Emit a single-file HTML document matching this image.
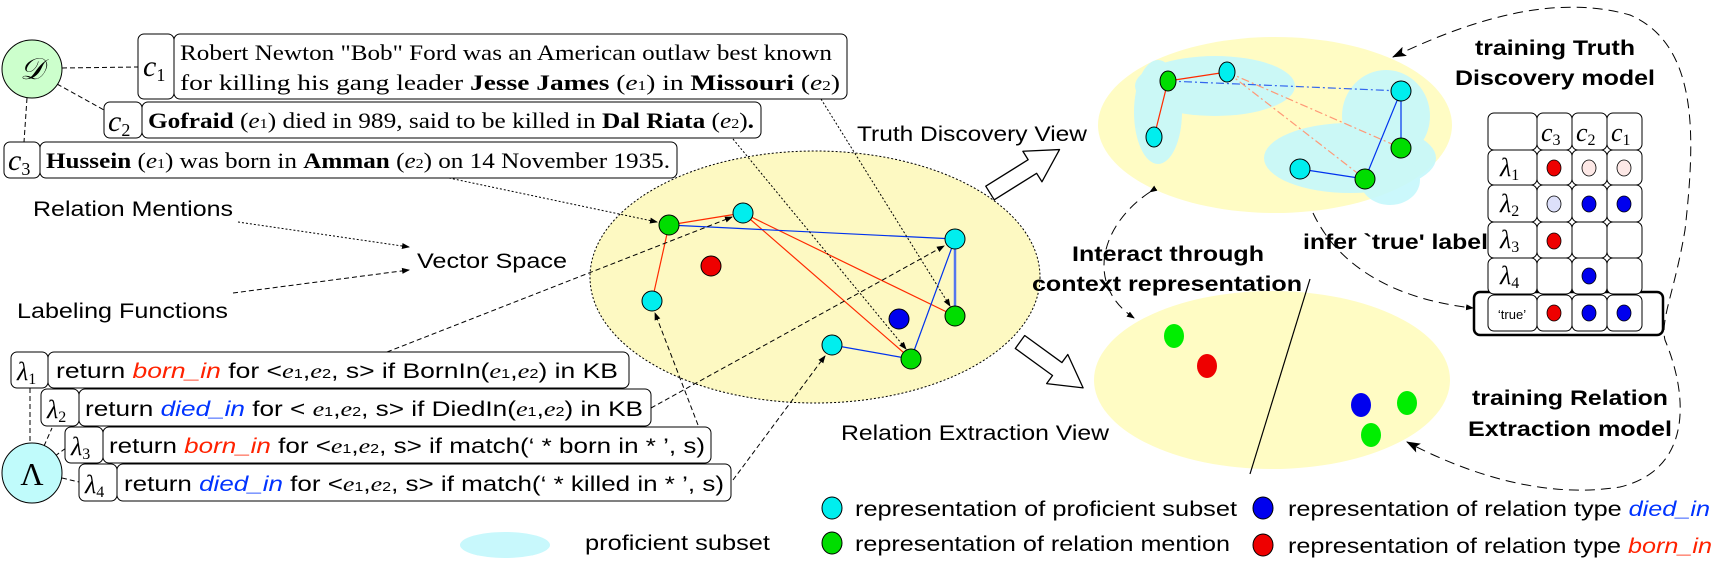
<!DOCTYPE html>
<html><head><meta charset="utf-8"><style>
html,body{margin:0;padding:0;background:#fff;}
svg{display:block;}
.sf{font-family:"Liberation Serif",serif;}
.ss{font-family:"Liberation Sans",sans-serif;}
</style></head><body>
<svg width="1725" height="561" viewBox="0 0 1725 561" xmlns="http://www.w3.org/2000/svg">
<defs>
<marker id="ah" markerWidth="8" markerHeight="8" refX="7" refY="4" orient="auto" markerUnits="userSpaceOnUse">
<path d="M0,1 L8,4 L0,7 Z" fill="#000"/></marker>
<marker id="ahb" markerWidth="14" markerHeight="10" refX="13" refY="5" orient="auto" markerUnits="userSpaceOnUse">
<path d="M0,0 L14,5 L0,10 L3,5 Z" fill="#000"/></marker>
<marker id="ahs" markerWidth="14" markerHeight="10" refX="1" refY="5" orient="auto" markerUnits="userSpaceOnUse">
<path d="M14,0 L0,5 L14,10 L11,5 Z" fill="#000"/></marker>
</defs>

<!-- D circle and sentences -->
<g stroke="#000" stroke-width="1" stroke-dasharray="5,3" fill="none">
<line x1="62" y1="68" x2="138" y2="67"/>
<line x1="57" y1="84" x2="104" y2="110"/>
<line x1="27" y1="98" x2="24" y2="142"/>
<line x1="44" y1="446" x2="52" y2="428"/>
<line x1="55" y1="456" x2="66" y2="448"/>
<line x1="62" y1="478" x2="79" y2="482"/>
</g>
<ellipse cx="32" cy="69" rx="30" ry="29" fill="#ccffcc" stroke="#000"/>
<text x="32" y="79" class="sf" font-size="30" font-style="italic" text-anchor="middle">𝒟</text>

<g fill="#fff" stroke="#000" stroke-width="1">
<rect x="138" y="34" width="36" height="65" rx="6"/>
<rect x="174" y="34" width="673" height="65" rx="6"/>
<rect x="104" y="102" width="38" height="36" rx="6"/>
<rect x="142" y="102" width="619" height="36" rx="6"/>
<rect x="4" y="142" width="36" height="36" rx="6"/>
<rect x="40" y="142" width="637" height="36" rx="6"/>
</g>
<g class="sf" font-size="30" font-style="italic">
<text x="143" y="76">c<tspan font-size="18" font-style="normal" dy="5">1</tspan></text>
<text x="108" y="131">c<tspan font-size="18" font-style="normal" dy="5">2</tspan></text>
<text x="8" y="170">c<tspan font-size="18" font-style="normal" dy="5">3</tspan></text>
</g>
<g class="sf" font-size="22">
<text x="180" y="60" textLength="652" lengthAdjust="spacingAndGlyphs">Robert Newton "Bob" Ford was an American outlaw best known</text>
<text x="180" y="90" textLength="660" lengthAdjust="spacingAndGlyphs">for killing his gang leader <tspan font-weight="bold">Jesse James</tspan> (<tspan font-style="italic">e</tspan><tspan font-size="14">1</tspan>) in <tspan font-weight="bold">Missouri</tspan> (<tspan font-style="italic">e</tspan><tspan font-size="14">2</tspan>)</text>
<text x="148" y="128" textLength="606" lengthAdjust="spacingAndGlyphs"><tspan font-weight="bold">Gofraid</tspan> (<tspan font-style="italic">e</tspan><tspan font-size="14">1</tspan>) died in 989, said to be killed in <tspan font-weight="bold">Dal Riata</tspan> (<tspan font-style="italic">e</tspan><tspan font-size="14">2</tspan>)<tspan font-weight="bold">.</tspan></text>
<text x="46" y="168" textLength="624" lengthAdjust="spacingAndGlyphs"><tspan font-weight="bold">Hussein</tspan> (<tspan font-style="italic">e</tspan><tspan font-size="14">1</tspan>) was born in <tspan font-weight="bold">Amman</tspan> (<tspan font-style="italic">e</tspan><tspan font-size="14">2</tspan>) on 14 November 1935.</text>
</g>

<!-- labels -->
<g class="ss" font-size="21">
<text x="33" y="216" textLength="200" lengthAdjust="spacingAndGlyphs">Relation Mentions</text>
<text x="417" y="268" textLength="150" lengthAdjust="spacingAndGlyphs">Vector Space</text>
<text x="17" y="318" textLength="211" lengthAdjust="spacingAndGlyphs">Labeling Functions</text>
<text x="857" y="141" textLength="230" lengthAdjust="spacingAndGlyphs">Truth Discovery View</text>
<text x="841" y="440" textLength="268" lengthAdjust="spacingAndGlyphs">Relation Extraction View</text>
<text x="585" y="550" textLength="185" lengthAdjust="spacingAndGlyphs">proficient subset</text>
</g>
<line x1="238" y1="222" x2="409" y2="247" stroke="#000" stroke-dasharray="2,2" marker-end="url(#ah)"/>
<line x1="233" y1="293" x2="409" y2="270" stroke="#000" stroke-dasharray="5,3" marker-end="url(#ah)"/>
<ellipse cx="505" cy="545" rx="45" ry="13" fill="#c8f8fc"/>

<!-- center ellipse -->
<ellipse cx="815" cy="277" rx="225" ry="126" fill="#fdf9c2" stroke="#000" stroke-dasharray="2,2"/>
<g stroke-width="1.2">
<line x1="669" y1="225" x2="743" y2="213" stroke="#ff2a00"/>
<line x1="669" y1="225" x2="652" y2="301" stroke="#ff2a00"/>
<line x1="743" y1="213" x2="955" y2="316" stroke="#ff2a00"/>
<line x1="743" y1="213" x2="911" y2="359" stroke="#ff2a00"/>
<line x1="669" y1="225" x2="955" y2="239" stroke="#0033ee"/>
<line x1="955" y1="239" x2="955" y2="316" stroke="#5577ee" stroke-width="2.5"/>
<line x1="955" y1="239" x2="911" y2="359" stroke="#0033ee"/>
<line x1="832" y1="345" x2="911" y2="359" stroke="#0033ee"/>
</g>
<g stroke="#000" fill="none" stroke-width="1">
<line x1="449" y1="178" x2="657" y2="222" stroke-dasharray="2,2" marker-end="url(#ah)"/>
<line x1="821" y1="99" x2="950" y2="306" stroke-dasharray="2,2" marker-end="url(#ah)"/>
<line x1="733" y1="139" x2="906" y2="349" stroke-dasharray="2,2" marker-end="url(#ah)"/>
<line x1="387" y1="352" x2="732" y2="217" stroke-dasharray="5,3" marker-end="url(#ah)"/>
<line x1="651" y1="408" x2="944" y2="246" stroke-dasharray="5,3" marker-end="url(#ah)"/>
<line x1="698" y1="425" x2="655" y2="313" stroke-dasharray="5,3" marker-end="url(#ah)"/>
<line x1="733" y1="480" x2="825" y2="356" stroke-dasharray="5,3" marker-end="url(#ah)"/>
</g>
<g stroke="#000" stroke-width="1">
<circle cx="669" cy="225" r="10" fill="#00dd00"/>
<circle cx="743" cy="213" r="10" fill="#00eeee"/>
<circle cx="711" cy="266" r="10" fill="#ee0000"/>
<circle cx="652" cy="301" r="10" fill="#00eeee"/>
<circle cx="955" cy="239" r="10" fill="#00eeee"/>
<circle cx="955" cy="316" r="10" fill="#00dd00"/>
<circle cx="899" cy="319" r="10" fill="#0000ee"/>
<circle cx="832" cy="345" r="10" fill="#00eeee"/>
<circle cx="911" cy="359" r="10" fill="#00dd00"/>
</g>

<!-- lambda boxes -->
<line x1="30" y1="388" x2="30" y2="444" stroke="#000" stroke-dasharray="5,3"/>
<g fill="#fff" stroke="#000" stroke-width="1">
<rect x="11" y="352" width="37" height="36" rx="6"/>
<rect x="48" y="352" width="581" height="36" rx="6"/>
<rect x="41" y="389" width="38" height="37" rx="6"/>
<rect x="79" y="389" width="572" height="37" rx="6"/>
<rect x="65" y="427" width="38" height="36" rx="6"/>
<rect x="103" y="427" width="608" height="36" rx="6"/>
<rect x="79" y="464" width="38" height="37" rx="6"/>
<rect x="117" y="464" width="614" height="37" rx="6"/>
</g>
<ellipse cx="32" cy="473" rx="30" ry="30" fill="#c0fbfb" stroke="#000"/>
<text x="32" y="485" class="sf" font-size="32" text-anchor="middle">Λ</text>
<g class="sf" font-size="26" font-style="italic">
<text x="17" y="380">λ<tspan font-size="16" font-style="normal" dy="4">1</tspan></text>
<text x="47" y="418">λ<tspan font-size="16" font-style="normal" dy="4">2</tspan></text>
<text x="71" y="455">λ<tspan font-size="16" font-style="normal" dy="4">3</tspan></text>
<text x="85" y="493">λ<tspan font-size="16" font-style="normal" dy="4">4</tspan></text>
</g>
<g class="ss" font-size="21">
<text x="56" y="378" textLength="562" lengthAdjust="spacingAndGlyphs">return <tspan fill="#ff2200" font-style="italic">born_in</tspan> for &lt;<tspan class="sf" font-style="italic">e</tspan><tspan font-size="13">1</tspan>,<tspan class="sf" font-style="italic">e</tspan><tspan font-size="13">2</tspan>, s&gt; if BornIn(<tspan class="sf" font-style="italic">e</tspan><tspan font-size="13">1</tspan>,<tspan class="sf" font-style="italic">e</tspan><tspan font-size="13">2</tspan>) in KB</text>
<text x="85" y="416" textLength="558" lengthAdjust="spacingAndGlyphs">return <tspan fill="#0033ff" font-style="italic">died_in</tspan> for &lt; <tspan class="sf" font-style="italic">e</tspan><tspan font-size="13">1</tspan>,<tspan class="sf" font-style="italic">e</tspan><tspan font-size="13">2</tspan>, s&gt; if DiedIn(<tspan class="sf" font-style="italic">e</tspan><tspan font-size="13">1</tspan>,<tspan class="sf" font-style="italic">e</tspan><tspan font-size="13">2</tspan>) in KB</text>
<text x="109" y="453" textLength="596" lengthAdjust="spacingAndGlyphs">return <tspan fill="#ff2200" font-style="italic">born_in</tspan> for &lt;<tspan class="sf" font-style="italic">e</tspan><tspan font-size="13">1</tspan>,<tspan class="sf" font-style="italic">e</tspan><tspan font-size="13">2</tspan>, s&gt; if match(‘ * born in * ’, s)</text>
<text x="124" y="491" textLength="600" lengthAdjust="spacingAndGlyphs">return <tspan fill="#0033ff" font-style="italic">died_in</tspan> for &lt;<tspan class="sf" font-style="italic">e</tspan><tspan font-size="13">1</tspan>,<tspan class="sf" font-style="italic">e</tspan><tspan font-size="13">2</tspan>, s&gt; if match(‘ * killed in * ’, s)</text>
</g>

<!-- hollow block arrows -->
<path transform="translate(990,193) rotate(-32)" d="M0,-8 L50,-8 L50,-18 L82,0 L50,18 L50,8 L0,8 Z" fill="#fff" stroke="#000" stroke-width="1.3" stroke-linejoin="round"/>
<path transform="translate(1020,342) rotate(36)" d="M0,-8 L46,-8 L46,-18 L78,0 L46,18 L46,8 L0,8 Z" fill="#fff" stroke="#000" stroke-width="1.3" stroke-linejoin="round"/>

<!-- top-right ellipse -->
<ellipse cx="1275" cy="125" rx="177" ry="88" fill="#fffcc4"/>
<g fill="#c6f8fc" opacity="0.9">
<ellipse cx="1215" cy="86" rx="80" ry="30"/>
<ellipse cx="1158" cy="112" rx="24" ry="52"/>
<ellipse cx="1386" cy="116" rx="44" ry="46"/>
<ellipse cx="1350" cy="158" rx="86" ry="35"/>
<ellipse cx="1390" cy="180" rx="30" ry="25"/>
</g>
<g stroke-width="1.2">
<line x1="1168" y1="81" x2="1227" y2="72" stroke="#ff2a00"/>
<line x1="1168" y1="81" x2="1154" y2="137" stroke="#ff2a00"/>
<line x1="1168" y1="81" x2="1401" y2="91" stroke="#3366ee" stroke-dasharray="8,3,2,3"/>
<line x1="1227" y1="72" x2="1401" y2="148" stroke="#ff9977" stroke-dasharray="8,3,2,3"/>
<line x1="1227" y1="72" x2="1365" y2="179" stroke="#ff9977" stroke-dasharray="8,3,2,3"/>
<line x1="1401" y1="91" x2="1401" y2="148" stroke="#0033ee"/>
<line x1="1401" y1="91" x2="1365" y2="179" stroke="#0033ee"/>
<line x1="1300" y1="169" x2="1365" y2="179" stroke="#0033ee"/>
</g>
<g stroke="#000">
<ellipse cx="1168" cy="81" rx="8" ry="10" fill="#00dd00"/>
<ellipse cx="1227" cy="72" rx="8" ry="10" fill="#00eeee"/>
<ellipse cx="1154" cy="137" rx="8" ry="10" fill="#00eeee"/>
<ellipse cx="1401" cy="91" rx="10" ry="10" fill="#00eeee"/>
<ellipse cx="1401" cy="148" rx="10" ry="10" fill="#00dd00"/>
<ellipse cx="1300" cy="169" rx="10" ry="10" fill="#00eeee"/>
<ellipse cx="1365" cy="179" rx="10" ry="10" fill="#00dd00"/>
</g>

<!-- bottom right ellipse -->
<ellipse cx="1272" cy="380" rx="178" ry="89" fill="#fffcc4"/>
<ellipse cx="1174" cy="336" rx="10" ry="12" fill="#00ee00"/>
<ellipse cx="1207" cy="366" rx="10" ry="12" fill="#ee0000"/>
<ellipse cx="1361" cy="405" rx="10" ry="12" fill="#0000ee"/>
<ellipse cx="1407" cy="403" rx="10" ry="12" fill="#00ee00"/>
<ellipse cx="1371" cy="435" rx="10" ry="12" fill="#00ee00"/>
<line x1="1310" y1="279" x2="1250" y2="474" stroke="#000" stroke-width="1.2"/>

<!-- bold labels -->
<g class="ss" font-size="21" font-weight="bold">
<text x="1072" y="261" textLength="192" lengthAdjust="spacingAndGlyphs">Interact through</text>
<text x="1032" y="291" textLength="270" lengthAdjust="spacingAndGlyphs">context representation</text>
<text x="1303" y="249" textLength="185" lengthAdjust="spacingAndGlyphs">infer `true' label</text>
<text x="1555" y="55" text-anchor="middle" textLength="160" lengthAdjust="spacingAndGlyphs">training Truth</text>
<text x="1555" y="85" text-anchor="middle" textLength="200" lengthAdjust="spacingAndGlyphs">Discovery model</text>
<text x="1570" y="405" text-anchor="middle" textLength="196" lengthAdjust="spacingAndGlyphs">training Relation</text>
<text x="1570" y="436" text-anchor="middle" textLength="204" lengthAdjust="spacingAndGlyphs">Extraction model</text>
</g>

<!-- dashed curves -->
<g fill="none" stroke="#000" stroke-width="1" stroke-dasharray="10,6">
<path d="M1150,192 C1100,225 1085,285 1134,318" marker-end="url(#ah)" marker-start="url(#ah)"/>
<path d="M1313,213 C1340,270 1400,300 1473,308" marker-end="url(#ah)"/>
<path d="M1393,57 C1480,15 1560,-5 1630,15 C1700,45 1695,140 1685,230 C1675,290 1660,320 1665,340 C1690,400 1690,470 1620,487 C1540,500 1460,470 1407,442" marker-start="url(#ahs)" marker-end="url(#ahb)"/>
</g>

<!-- table -->
<rect x="1474" y="292" width="189" height="43" rx="6" fill="#fff" stroke="#000" stroke-width="2.5"/>
<g fill="#fff" stroke="#000" stroke-width="1" transform="translate(-6,0)">
<rect x="1494" y="113" width="49" height="37" rx="6"/><rect x="1543" y="113" width="35" height="37" rx="6"/><rect x="1578" y="113" width="35" height="37" rx="6"/><rect x="1613" y="113" width="35" height="37" rx="6"/>
<rect x="1494" y="150" width="49" height="35" rx="6"/><rect x="1543" y="150" width="35" height="35" rx="6"/><rect x="1578" y="150" width="35" height="35" rx="6"/><rect x="1613" y="150" width="35" height="35" rx="6"/>
<rect x="1494" y="185" width="49" height="37" rx="6"/><rect x="1543" y="185" width="35" height="37" rx="6"/><rect x="1578" y="185" width="35" height="37" rx="6"/><rect x="1613" y="185" width="35" height="37" rx="6"/>
<rect x="1494" y="222" width="49" height="36" rx="6"/><rect x="1543" y="222" width="35" height="36" rx="6"/><rect x="1578" y="222" width="35" height="36" rx="6"/><rect x="1613" y="222" width="35" height="36" rx="6"/>
<rect x="1494" y="258" width="49" height="36" rx="6"/><rect x="1543" y="258" width="35" height="36" rx="6"/><rect x="1578" y="258" width="35" height="36" rx="6"/><rect x="1613" y="258" width="35" height="36" rx="6"/>
<rect x="1494" y="295" width="49" height="36" rx="6"/><rect x="1543" y="295" width="35" height="36" rx="6"/><rect x="1578" y="295" width="35" height="36" rx="6"/><rect x="1613" y="295" width="35" height="36" rx="6"/>
</g>
<g transform="translate(-6,0)">
<g class="sf" font-size="26" font-style="italic">
<text x="1547" y="141">c<tspan font-size="16" font-style="normal" dy="4">3</tspan></text>
<text x="1582" y="141">c<tspan font-size="16" font-style="normal" dy="4">2</tspan></text>
<text x="1617" y="141">c<tspan font-size="16" font-style="normal" dy="4">1</tspan></text>
<text x="1506" y="176">λ<tspan font-size="16" font-style="normal" dy="4">1</tspan></text>
<text x="1506" y="212">λ<tspan font-size="16" font-style="normal" dy="4">2</tspan></text>
<text x="1506" y="248">λ<tspan font-size="16" font-style="normal" dy="4">3</tspan></text>
<text x="1506" y="284">λ<tspan font-size="16" font-style="normal" dy="4">4</tspan></text>
</g>
<text x="1518" y="319" class="ss" font-size="13" text-anchor="middle">‘true’</text>
<g stroke="#000" stroke-width="0.8">
<ellipse cx="1560" cy="168" rx="7" ry="8" fill="#ee0000"/><ellipse cx="1595" cy="168" rx="7" ry="8" fill="#fde8e6"/><ellipse cx="1630" cy="168" rx="7" ry="8" fill="#fde8e6"/>
<ellipse cx="1560" cy="204" rx="7" ry="8" fill="#dde0fa"/><ellipse cx="1595" cy="204" rx="7" ry="8" fill="#0000ee"/><ellipse cx="1630" cy="204" rx="7" ry="8" fill="#0000ee"/>
<ellipse cx="1560" cy="241" rx="7" ry="8" fill="#ee0000"/>
<ellipse cx="1595" cy="276" rx="7" ry="8" fill="#0000ee"/>
<ellipse cx="1560" cy="313" rx="7" ry="8" fill="#ee0000"/><ellipse cx="1595" cy="313" rx="7" ry="8" fill="#0000ee"/><ellipse cx="1630" cy="313" rx="7" ry="8" fill="#0000ee"/>
</g>
</g>

<!-- legend -->
<g stroke="#000" stroke-width="1">
<ellipse cx="832" cy="508" rx="10" ry="11" fill="#00eeee"/>
<ellipse cx="832" cy="543" rx="10" ry="11" fill="#00dd00"/>
<ellipse cx="1263" cy="508" rx="10" ry="11" fill="#0000ee"/>
<ellipse cx="1263" cy="545" rx="10" ry="11" fill="#ee0000"/>
</g>
<g class="ss" font-size="21">
<text x="855" y="516" textLength="382" lengthAdjust="spacingAndGlyphs">representation of proficient subset</text>
<text x="855" y="551" textLength="375" lengthAdjust="spacingAndGlyphs">representation of relation mention</text>
<text x="1288" y="516" textLength="422" lengthAdjust="spacingAndGlyphs">representation of relation type <tspan fill="#0033ff" font-style="italic">died_in</tspan></text>
<text x="1288" y="553" textLength="424" lengthAdjust="spacingAndGlyphs">representation of relation type <tspan fill="#ff2200" font-style="italic">born_in</tspan></text>
</g>
</svg>
</body></html>
